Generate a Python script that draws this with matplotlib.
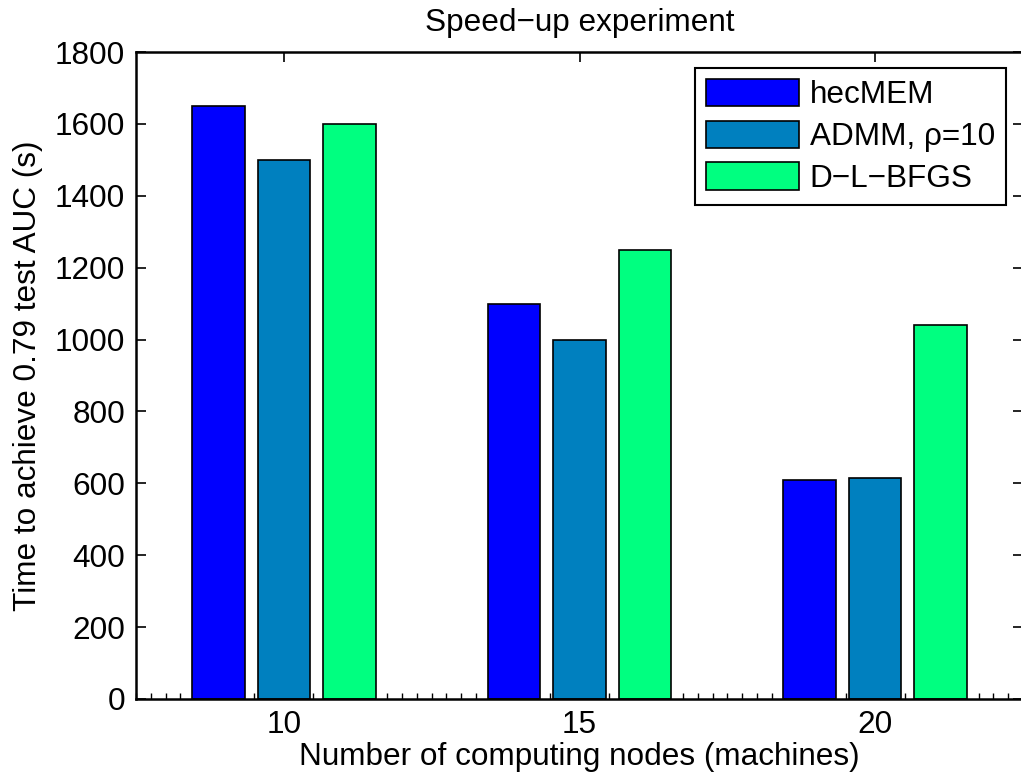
import matplotlib
matplotlib.use("Agg")
import matplotlib.pyplot as plt
import numpy as np
from matplotlib.ticker import MultipleLocator

plt.rcParams['font.family'] = ['Liberation Sans', 'DejaVu Sans']

nodes = [10, 15, 20]
series_names = ["hecMEM", "ADMM, \u03c1=10", "D\u2212L\u2212BFGS"]
hecmem = [1650, 1100, 610]
admm = [1500, 1000, 615]
dlbfgs = [1600, 1250, 1040]
colors = ["#0000ff", "#0080bf", "#00ff80"]

fs = 22.7
fig = plt.figure(figsize=(10.21, 7.84), dpi=100)
ax = fig.add_axes([136 / 1021, 85 / 784, 887 / 1021, 647 / 784])

x = np.array(nodes, dtype=float)
offset = 1.11
width = 0.89
for i, (vals, name, c) in enumerate(zip([hecmem, admm, dlbfgs], series_names, colors)):
    ax.bar(x + (i - 1) * offset, vals, width=width, color=c, edgecolor="black",
           linewidth=1.2, label=name, zorder=2)

ax.set_xlim(7.5, 22.5)
ax.set_ylim(0, 1800)
ax.set_xticks(nodes)
ax.set_yticks(np.arange(0, 1801, 200))
ax.xaxis.set_minor_locator(MultipleLocator(0.25))

ax.tick_params(axis="both", which="major", direction="in", length=7, width=1.2,
               labelsize=fs, top=True, right=True, pad=8)
ax.tick_params(axis="x", which="minor", direction="in", length=4, width=1.0,
               top=False, bottom=True)
for sp in ax.spines.values():
    sp.set_linewidth(1.8)

ax.set_title("Speed\u2212up experiment", fontsize=fs, pad=15)
ax.set_xlabel("Number of computing nodes (machines)", fontsize=fs, labelpad=1)
ax.set_ylabel("Time to achieve 0.79 test AUC (s)", fontsize=fs, labelpad=8)

leg = ax.legend(loc="upper right", bbox_to_anchor=(1006 / 1021, (784 - 67.7) / 784),
                bbox_transform=fig.transFigure, fontsize=fs, handlelength=2.95,
                handleheight=0.95, handletextpad=0.33, labelspacing=0.33,
                borderpad=0.35, borderaxespad=0, fancybox=False, framealpha=1,
                edgecolor="black")
leg.get_frame().set_linewidth(1.5)

fig.savefig("out.png", dpi=100)
